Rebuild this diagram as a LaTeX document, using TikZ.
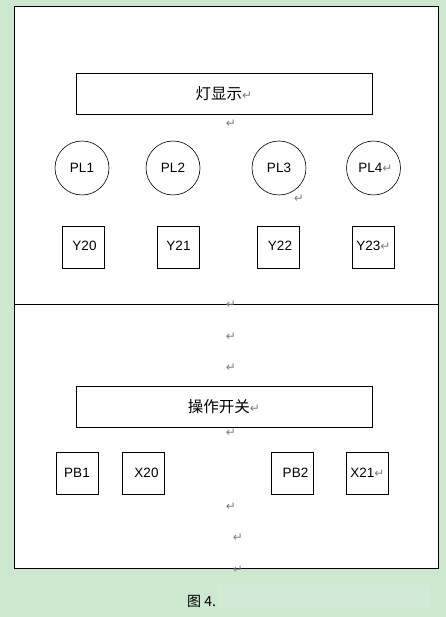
\documentclass[tikz,border=0pt]{standalone}
\usepackage{fontspec}
\setmainfont{Liberation Sans}
\newfontfamily\cjk{Noto Sans CJK SC}
\newfontfamily\markfont{DejaVu Sans}
\usetikzlibrary{positioning}

\definecolor{bggreen}{RGB}{204,232,207}
\definecolor{blurgreen}{RGB}{210,234,212}
\newcommand{\pmark}{{\markfont\color{gray}\fontsize{12}{12}\selectfont ↵}}

\tikzset{
    lamp/.style={draw, circle, line width=0.6pt, minimum size=54pt, inner sep=0pt, font=\fontsize{13.5}{13.5}\selectfont},
    port/.style={draw, line width=0.7pt, minimum width=42pt, minimum height=42pt, inner sep=0pt, font=\fontsize{13.5}{13.5}\selectfont},
    titlebox/.style={draw, line width=0.8pt, minimum width=296pt, minimum height=41pt, inner sep=0pt, font=\cjk\fontsize{15.5}{15.5}\selectfont},
    para/.style={inner sep=0pt, font=\markfont\fontsize{12}{12}\selectfont, text=gray}
}

\begin{document}
\begin{tikzpicture}[x=1pt, y=-1pt]
            % 背景
            \fill[bggreen] (0,0) rectangle (446,617);
            \useasboundingbox (0,0) rectangle (446,617);

            % 外框和分隔线
            \fill[white] (14,6) rectangle (438,568);
            \draw[line width=0.8pt] (14,6) rectangle (438,568);
            \draw[line width=0.8pt] (14,304) -- (438,304);

            % 灯显示部分
            \node[titlebox] (lights) at (224,93.5) {灯显示\pmark};

            \node[lamp] (pl1) at (82,168) {PL1};
            \node[lamp] (pl2) at (173,168) {PL2};
            \node[lamp] (pl3) at (279,168) {PL3};
            \node[lamp] (pl4) at (373.5,168) {\hspace{4pt}PL4\pmark};

            \node[port] (y20) at (83,247.5) {\raisebox{4pt}{\hspace{3pt}Y20}};
            \node[port] (y21) at (178.5,247.5) {\raisebox{4pt}{Y21}};
            \node[port] (y22) at (278.5,247.5) {\raisebox{4pt}{\hspace{3pt}Y22}};
            \node[port] (y23) at (373.5,247.5) {\raisebox{4pt}{Y23\pmark}};

            % 操作开关部分
            \node[titlebox] (switches) at (224,406.5) {操作开关\pmark};

            \node[port] (pb1) at (77,473) {PB1};
            \node[port] (x20) at (143.5,473) {\hspace{6pt}X20};
            \node[port] (pb2) at (292.5,473) {\hspace{6pt}PB2};
            \node[port] (x21) at (367.5,473) {X21\pmark};

            % 段落标记
            \node[para] (m1) at (231,124) {↵};
            \node[para] (m2) at (299,199) {↵};
            \node[para] (m3) at (231,305) {↵};
            \node[para] (m4) at (231,337) {↵};
            \node[para] (m5) at (231,368) {↵};
            \node[para] (m6) at (231,433) {↵};
            \node[para] (m7) at (231,507) {↵};
            \node[para] (m8) at (238,538) {↵};
            \node[para] (m9) at (238,570) {↵};

            % 图题
            \fill[blurgreen] (217,585) rectangle (430,609);
            \node[anchor=west, inner sep=0pt, font=\cjk\fontsize{14}{14}\selectfont] (caption) at (187,601) {图 4.};
        \end{tikzpicture}
\end{document}
